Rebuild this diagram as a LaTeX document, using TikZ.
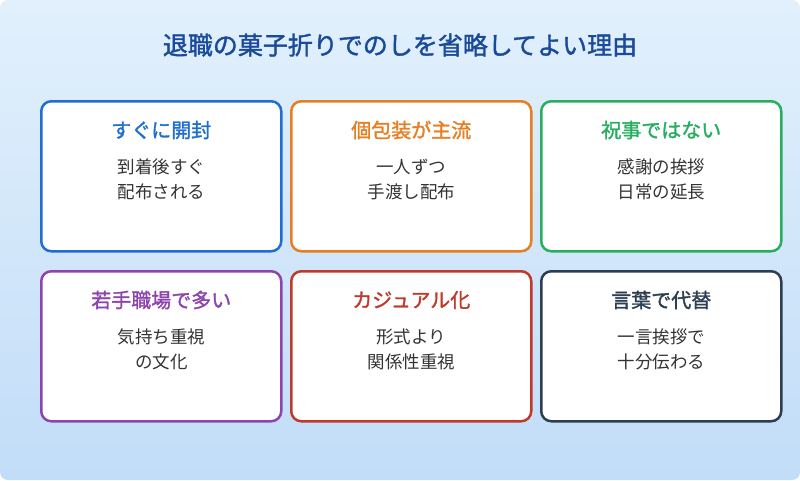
\documentclass[tikz,border=0pt]{standalone}
\usepackage{fontspec}
\setmainfont{Noto Sans CJK JP}
\newfontfamily\jpbold[FakeBold=1.5]{Noto Sans CJK JP}
\definecolor{bgA}{HTML}{E2F0FC}
\definecolor{bgB}{HTML}{C2DDF8}
\definecolor{ttl}{HTML}{1A4A9A}
\definecolor{cA}{HTML}{1E6FD0}
\definecolor{cB}{HTML}{E67E22}
\definecolor{cC}{HTML}{27AE60}
\definecolor{cD}{HTML}{8E44AD}
\definecolor{cE}{HTML}{C0392B}
\definecolor{cF}{HTML}{2C3E50}
\definecolor{txt}{HTML}{333333}
\begin{document}
\begin{tikzpicture}[x=1pt,y=-1pt,
  card/.style={draw=#1,line width=2.5pt,fill=white,rounded corners=10pt,minimum width=240pt,minimum height=150pt,anchor=north west,inner sep=0pt},
  head/.style={text=#1,font=\jpbold\fontsize{20}{24}\selectfont,anchor=center},
  body/.style={text=txt,font=\fontsize{17.5}{25}\selectfont,align=center,anchor=north}]
\useasboundingbox (0,0) rectangle (800,480);
\shade[top color=bgA,bottom color=bgB,rounded corners=8pt] (0,0) rectangle (800,480);
\node[text=ttl,font=\jpbold\fontsize{25}{28}\selectfont] (title) at (400,45) {退職の菓子折りでのしを省略してよい理由};
\foreach \n/\x/\y/\c/\h/\a/\b in {
  a/40/100/cA/すぐに開封/到着後すぐ/配布される,
  b/290/100/cB/個包装が主流/一人ずつ/手渡し配布,
  c/540/100/cC/祝事ではない/感謝の挨拶/日常の延長,
  d/40/270/cD/若手職場で多い/気持ち重視/の文化,
  e/290/270/cE/カジュアル化/形式より/関係性重視,
  f/540/270/cF/言葉で代替/一言挨拶で/十分伝わる}{
  \node[card=\c] (\n) at (\x,\y) {};
  \node[head=\c] (\n h) at ([yshift=-30pt]\n.north) {\h};
  \node[body] (\n t) at ([yshift=-55pt]\n.north) {\a\\\b};
}
\end{tikzpicture}
\end{document}
